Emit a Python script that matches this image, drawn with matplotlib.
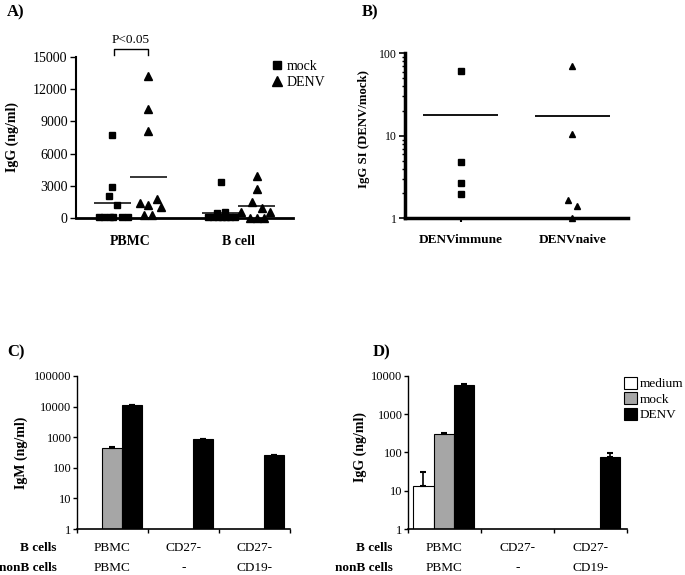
import numpy as np
import matplotlib
matplotlib.use("Agg")
import matplotlib.pyplot as plt
from matplotlib.lines import Line2D
from matplotlib.patches import Patch
from matplotlib.transforms import blended_transform_factory

plt.rcParams['font.family'] = ['Liberation Serif', 'DejaVu Serif']

# ---------------- Panel A data ----------------
a_categories = ['PBMC', 'B cell']
a_pbmc_mock = [7750, 2860, 2080, 1210, 80, 60, 60, 60, 60, 80]
a_pbmc_mock_dx = [0.0, 0.0, -0.07, 0.09, -0.24, -0.15, -0.05, 0.02, 0.17, 0.28]
a_pbmc_denv = [13200, 10200, 8100, 1740, 1370, 1210, 1050, 250, 250]
a_pbmc_denv_dx = [0.0, 0.0, 0.0, 0.16, -0.15, 0.0, 0.24, -0.08, 0.07]
a_bcell_mock = [3330, 590, 500, 60, 60, 60, 60, 60, 60, 60]
a_bcell_mock_dx = [0.0, 0.08, -0.07, -0.24, -0.14, 0.02, 0.17, 0.26, -0.05, 0.10]
a_bcell_denv = [3900, 2700, 1450, 930, 590, 590, 30, 30, 30]
a_bcell_denv_dx = [0.0, 0.0, -0.08, 0.09, -0.28, 0.25, -0.13, 0.01, 0.13]
a_mock_means = [1430, 420]
a_denv_means = [3850, 1150]
a_yticks = [0, 3000, 6000, 9000, 12000, 15000]

# ---------------- Panel B data ----------------
b_categories = ['DENVimmune', 'DENVnaive']
b_immune = [60.8, 4.75, 2.71, 1.96]
b_immune_dx = [0.0, 0.0, 0.0, 0.0]
b_naive = [71.0, 10.6, 1.67, 1.42, 1.0]
b_naive_dx = [0.0, 0.0, -0.07, 0.09, 0.0]
b_means = [17.9, 17.4]

# ---------------- Panel C / D data ----------------
group_row1 = ['PBMC', 'CD27-', 'CD27-']
group_row2 = ['PBMC', '-', 'CD19-']
series_names = ['medium', 'mock', 'DENV']
series_colors = ['white', '#a6a6a6', 'black']

c_medium = [np.nan, np.nan, np.nan]
c_medium_err = [0, 0, 0]
c_mock = [440, np.nan, np.nan]
c_mock_err = [35, 0, 0]
c_denv = [11000, 860, 255]
c_denv_err = [0, 40, 12]
c_yticks = [1, 10, 100, 1000, 10000, 100000]

d_medium = [13.5, np.nan, np.nan]
d_medium_err = [18, 0, 0]
d_mock = [300, np.nan, np.nan]
d_mock_err = [25, 0, 0]
d_denv = [5700, np.nan, 77]
d_denv_err = [500, 0, 22]
d_yticks = [1, 10, 100, 1000, 10000]

W, H = 685, 575
fig = plt.figure(figsize=(W / 100, H / 100), dpi=100)


def px_axes(left, right, top, bottom):
    return fig.add_axes([left / W, 1 - bottom / H, (right - left) / W, (bottom - top) / H])


axA = px_axes(76, 293, 57, 218)
axB = px_axes(405, 628, 53.3, 218.3)
axC = px_axes(77, 290, 376, 529)
axD = px_axes(408, 627, 375.7, 529)

# ---------------- Panel A ----------------
centers_A = [1, 3]
off = 0.33
for i, (mock, mdx, denv, ddx) in enumerate([
        (a_pbmc_mock, a_pbmc_mock_dx, a_pbmc_denv, a_pbmc_denv_dx),
        (a_bcell_mock, a_bcell_mock_dx, a_bcell_denv, a_bcell_denv_dx)]):
    cm = centers_A[i] - off
    cd = centers_A[i] + off
    axA.plot(cm + np.array(mdx), mock, 's', color='black', ms=5, clip_on=False, zorder=3)
    axA.plot(cd + np.array(ddx), denv, '^', color='black', ms=5.8, clip_on=False, zorder=3)
    axA.hlines(a_mock_means[i], cm - 0.34, cm + 0.34, color='black', lw=1.1)
    axA.hlines(a_denv_means[i], cd - 0.34, cd + 0.34, color='black', lw=1.1)

axA.set_xlim(0, 4)
axA.set_ylim(0, 15000)
axA.set_yticks(a_yticks)
axA.set_yticklabels([str(v) for v in a_yticks], fontsize=10)
axA.set_xticks(centers_A)
axA.set_xticklabels(a_categories, fontsize=10, fontweight='bold')
axA.tick_params(axis='x', length=0, pad=12)
axA.tick_params(axis='y', length=4, width=1, direction='out', pad=2)
for s in ['top', 'right']:
    axA.spines[s].set_visible(False)
axA.spines['left'].set_linewidth(1.5)
axA.spines['bottom'].set_linewidth(2)
axA.set_ylabel('IgG (ng/ml)', fontsize=10, fontweight='bold')
axA.yaxis.set_label_coords(-0.263, 0.5)
# significance bracket
bx0, bx1 = 1 - off + 0.03, 1 + off
axA.plot([bx0, bx0, bx1, bx1], [15200, 15750, 15750, 15200], color='black', lw=1, clip_on=False)
axA.text((bx0 + bx1) / 2, 16600, 'P<0.05', ha='center', va='center', fontsize=9.5)
legA = [Line2D([], [], marker='s', ls='none', color='black', ms=6),
        Line2D([], [], marker='^', ls='none', color='black', ms=6.5)]
fig.legend(legA, ['mock', 'DENV'], loc='upper left', bbox_to_anchor=(272 / W, 1 - 60 / H),
           frameon=False, fontsize=10, handlelength=0.7, handletextpad=0.35,
           labelspacing=0.2, borderpad=0, borderaxespad=0)

# ---------------- Panel B ----------------
centers_B = [1, 3]
axB.plot(centers_B[0] + np.array(b_immune_dx), b_immune, 's', color='black', ms=5, clip_on=False, zorder=3)
axB.plot(centers_B[1] + np.array(b_naive_dx), b_naive, '^', color='black', ms=5, clip_on=False, zorder=1)
for c, m in zip(centers_B, b_means):
    axB.hlines(m, c - 0.67, c + 0.67, color='black', lw=1.3)
axB.set_yscale('log')
axB.set_ylim(1, 100)
axB.set_xlim(0, 4)
axB.set_yticks([1, 10, 100])
axB.set_yticklabels(['1', '10', '100'], fontsize=8.5)
axB.set_xticks(centers_B)
axB.set_xticklabels(b_categories, fontsize=9.5, fontweight='bold')
axB.tick_params(axis='x', length=3, width=1.5, pad=8)
axB.tick_params(axis='y', which='major', length=4, width=1.2, pad=2)
axB.tick_params(axis='y', which='minor', length=2, width=1)
for s in ['top', 'right']:
    axB.spines[s].set_visible(False)
axB.spines['left'].set_linewidth(2.5)
axB.spines['bottom'].set_linewidth(2.5)
axB.set_ylabel('IgG SI (DENV/mock)', fontsize=9.2, fontweight='bold')
axB.yaxis.set_label_coords(-0.157, 0.54)


# ---------------- Panels C / D ----------------
def bar_panel(ax, series, errs, yticks, ylabel, label_xy, rowlab_x):
    offsets = [0.21, 0.49, 0.77]
    width = 0.28
    for k, (vals, ee) in enumerate(zip(series, errs)):
        xs, hs, es = [], [], []
        for g, (v, e) in enumerate(zip(vals, ee)):
            if not np.isnan(v):
                xs.append(g + offsets[k]); hs.append(v); es.append(e)
        if xs:
            ax.bar(xs, hs, width=width, color=series_colors[k], edgecolor='black',
                   linewidth=0.8, zorder=2)
            ax.errorbar(xs, hs, yerr=[np.zeros(len(es)), es], fmt='none', ecolor='black',
                        elinewidth=1.2, capsize=2.5, capthick=1.5, zorder=3)
    ax.set_yscale('log')
    ax.set_ylim(1, yticks[-1])
    ax.set_xlim(0, 3)
    ax.set_yticks(yticks)
    ax.set_yticklabels([str(v) for v in yticks], fontsize=9)
    ax.minorticks_off()
    ax.set_xticks([0, 1, 2, 3])
    ax.set_xticklabels([])
    ax.tick_params(axis='both', length=3, width=1, direction='out', pad=1)
    for s in ['top', 'right']:
        ax.spines[s].set_visible(False)
    ax.spines['left'].set_linewidth(1)
    ax.spines['bottom'].set_linewidth(1.2)
    ax.set_ylabel(ylabel, fontsize=10, fontweight='bold')
    ax.yaxis.set_label_coords(*label_xy)
    tr = blended_transform_factory(ax.transData, ax.transAxes)
    y1, y2 = -0.124, -0.255
    ax.text(rowlab_x, y1, 'B cells', transform=ax.transAxes, ha='right', va='center',
            fontsize=9.5, fontweight='bold')
    ax.text(rowlab_x, y2, 'nonB cells', transform=ax.transAxes, ha='right', va='center',
            fontsize=9.5, fontweight='bold')
    for g in range(3):
        ax.text(g + 0.5, y1, group_row1[g], transform=tr, ha='center', va='center', fontsize=9.5)
        ax.text(g + 0.5, y2, group_row2[g], transform=tr, ha='center', va='center', fontsize=9.5)


bar_panel(axC, [c_medium, c_mock, c_denv], [c_medium_err, c_mock_err, c_denv_err],
          c_yticks, 'IgM (ng/ml)', (-0.23, 0.5), -0.094)
bar_panel(axD, [d_medium, d_mock, d_denv], [d_medium_err, d_mock_err, d_denv_err],
          d_yticks, 'IgG (ng/ml)', (-0.189, 0.536), -0.07)

legD = [Patch(facecolor=c, edgecolor='black', linewidth=0.8) for c in series_colors]
fig.legend(legD, series_names, loc='upper left', bbox_to_anchor=(624 / W, 1 - 377 / H),
           frameon=False, fontsize=9.5, handlelength=1.0, handleheight=1.0,
           handletextpad=0.2, labelspacing=0.15, borderpad=0, borderaxespad=0)

# panel letters
for lab, x, y in [('A)', 7, 12), ('B)', 362, 12), ('C)', 7, 352), ('D)', 373, 352)]:
    fig.text(x / W, 1 - y / H, lab, fontsize=12, fontweight='bold', va='center', ha='left')

fig.savefig('out.png', dpi=100)
